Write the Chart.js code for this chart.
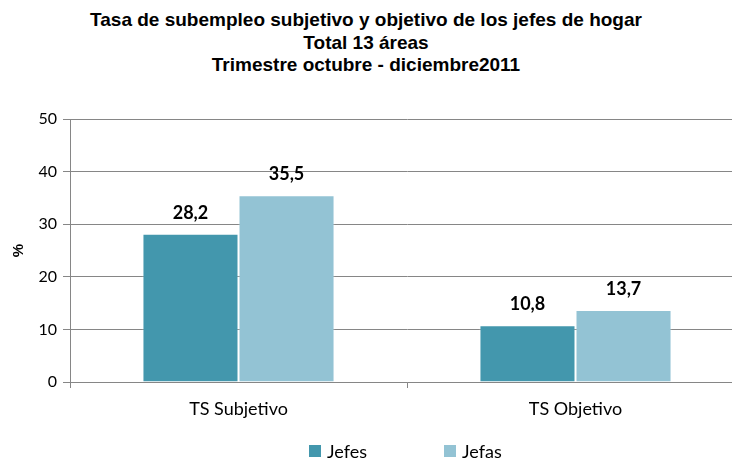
<!DOCTYPE html>
<html>
<head>
<meta charset="utf-8">
<script src="https://cdn.jsdelivr.net/npm/chart.js@4.4.0/dist/chart.umd.min.js"></script>
<style>
    body { margin: 0; background: #fff; }
    #wrap { position: relative; width: 732px; height: 459px; overflow: hidden; }
    #chart-title {
        position: absolute; left: 0; top: 9px; width: 732px; text-align: center;
        font: bold 19px "Liberation Sans", Arial, sans-serif; line-height: 22.5px; color: #000;
    }
    #mainCanvas { position: absolute; left: 0; top: 0; }
    #legend {
        position: absolute; left: 309px; top: 440px; display: flex;
        font: 18px Lato, sans-serif; color: #000;
    }
    #legend .item { display: flex; align-items: center; margin-right: 77px; }
    #legend .box { width: 12px; height: 12px; margin-right: 6px; }
</style>
</head>
<body>
<div id="wrap">
    <div id="chart-title"></div>
    <canvas id="mainCanvas" width="744" height="459"></canvas>
    <div id="legend"></div>
</div>
<script>
const titleLines = ['Tasa de subempleo subjetivo y objetivo de los jefes de hogar', 'Total 13 áreas', 'Trimestre octubre - diciembre2011'];
const categories = ['TS Subjetivo', 'TS Objetivo'];
const seriesNames = ['Jefes', 'Jefas'];
const jefes = [28.2, 10.8];
const jefas = [35.5, 13.7];
const colors = ['#4397ad', '#93c3d4'];

document.getElementById('chart-title').innerHTML = titleLines.join('<br>');

// legend built from the same series names / colours
const legendEl = document.getElementById('legend');
seriesNames.forEach((name, i) => {
    const item = document.createElement('div');
    item.className = 'item';
    item.innerHTML = `<span class="box" style="background:${colors[i]}"></span><span>${name}</span>`;
    legendEl.appendChild(item);
});

// value labels above each bar, comma as decimal separator
const barLabels = {
    id: 'barLabels',
    afterDatasetsDraw(chart) {
        const ctx = chart.ctx;
        ctx.save();
        ctx.font = 'bold 18px Lato, sans-serif';
        ctx.fillStyle = '#000';
        ctx.textAlign = 'center';
        ctx.textBaseline = 'alphabetic';
        chart.data.datasets.forEach((ds, i) => {
            chart.getDatasetMeta(i).data.forEach((bar, j) => {
                ctx.fillText(ds.data[j].toFixed(1).replace('.', ','), bar.x, bar.y - 15);
            });
        });
        ctx.restore();
    }
};

new Chart(document.getElementById('mainCanvas').getContext('2d'), {
    type: 'bar',
    data: {
        labels: categories,
        datasets: [
            { label: seriesNames[0], data: jefes, backgroundColor: colors[0], borderColor: 'rgba(255,255,255,0.35)', borderWidth: 1 },
            { label: seriesNames[1], data: jefas, backgroundColor: colors[1], borderColor: 'rgba(255,255,255,0.35)', borderWidth: 1 }
        ]
    },
    options: {
        responsive: false,
        animation: false,
        layout: { padding: { top: 119, left: 0, right: 0, bottom: 0 } },
        categoryPercentage: 0.57,
        barPercentage: 1,
        plugins: {
            legend: { display: false },
            title: { display: false },
            tooltip: { enabled: false }
        },
        scales: {
            x: {
                afterFit: (scale) => { scale.height = 77; },
                grid: { display: true, drawOnChartArea: false, drawTicks: true, tickLength: 6, color: '#868686' },
                border: { display: true, color: '#868686' },
                ticks: { color: '#000', font: { family: 'Lato', size: 18 }, padding: 10 }
            },
            y: {
                min: 0,
                max: 50,
                afterFit: (scale) => { scale.width = 70; },
                ticks: { stepSize: 10, color: '#000', font: { family: 'Lato', size: 16 }, padding: 6 },
                grid: { color: '#868686', tickLength: 7 },
                border: { color: '#868686' },
                title: { display: true, text: '%', color: '#000', font: { family: 'Liberation Sans', size: 15, weight: 'bold' }, padding: { top: 10, bottom: 0 } }
            }
        }
    },
    plugins: [barLabels]
});
</script>
</body>
</html>
